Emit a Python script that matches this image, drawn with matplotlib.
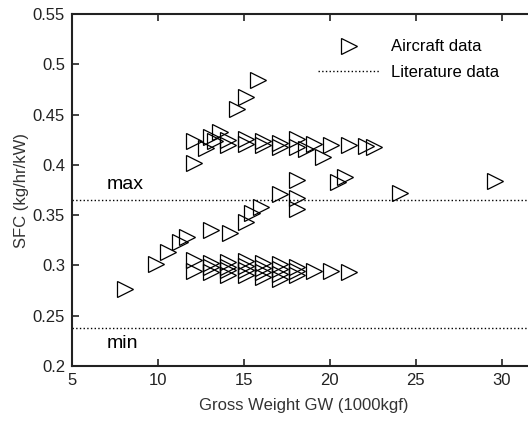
import matplotlib.pyplot as plt
import numpy as np

plt.rcParams['font.family'] = ['Liberation Sans', 'DejaVu Sans']

# aircraft data (GW in 1000kgf, SFC in kg/hr/kW)
gw = [8.1, 9.9, 10.6, 11.3, 11.7, 13.1, 14.2, 15.1, 15.5, 16.0, 17.1,
      18.1, 18.1, 18.1, 20.5, 20.9, 24.1, 29.6,
      14.6, 15.1, 15.8,
      12.1, 12.1, 12.8, 13.1, 13.3, 13.6, 14.1, 14.1, 15.1, 15.1, 16.1, 16.1,
      17.1, 17.1, 18.1, 18.1, 18.6, 19.1, 19.6, 20.1, 21.1, 22.1, 22.6,
      12.1, 12.1, 13.1, 13.1, 13.1, 14.1, 14.1, 14.1, 14.1,
      15.1, 15.1, 15.1, 15.1, 16.1, 16.1, 16.1, 16.1,
      17.1, 17.1, 17.1, 17.1, 18.1, 18.1, 18.1, 19.1, 20.1, 21.1]
sfc = [0.277, 0.301, 0.313, 0.323, 0.328, 0.335, 0.332, 0.343, 0.352, 0.358, 0.371,
       0.385, 0.367, 0.356, 0.383, 0.388, 0.372, 0.384,
       0.456, 0.467, 0.484,
       0.424, 0.402, 0.417, 0.428, 0.424, 0.433, 0.425, 0.420, 0.426, 0.421, 0.424, 0.420,
       0.422, 0.418, 0.426, 0.418, 0.416, 0.421, 0.408, 0.420, 0.420, 0.419, 0.418,
       0.305, 0.294, 0.302, 0.298, 0.293, 0.303, 0.298, 0.295, 0.290,
       0.304, 0.299, 0.295, 0.290, 0.302, 0.297, 0.293, 0.288,
       0.301, 0.296, 0.291, 0.287, 0.298, 0.294, 0.290, 0.294, 0.294, 0.293]

# literature limits
sfc_max = 0.365
sfc_min = 0.238

yticks = [0.2, 0.25, 0.3, 0.35, 0.4, 0.45, 0.5, 0.55]
ylabels = ['0.2', '0.25', '0.3', '0.35', '0.4', '0.45', '0.5', '0.55']
xticks = [5, 10, 15, 20, 25, 30]

fig = plt.figure(figsize=(5.28, 4.21), dpi=100)
ax = fig.add_axes([72/528, 55/421, 464/528, 352/421])

ax.plot(gw, sfc, linestyle='none', marker='>', markersize=11.5,
        markerfacecolor='none', markeredgecolor='black', markeredgewidth=0.9,
        label='Aircraft data')
ax.axhline(sfc_max, color='black', linestyle=':', linewidth=1, label='Literature data')
ax.axhline(sfc_min, color='black', linestyle=':', linewidth=1)

ax.text(7.0, 0.372, 'max', fontsize=14, va='bottom')
ax.text(7.0, 0.214, 'min', fontsize=14, va='bottom')

ax.set_xlim(5, 32)
ax.set_ylim(0.2, 0.55)
ax.set_xticks(xticks)
ax.set_yticks(yticks)
ax.set_yticklabels(ylabels)
ax.tick_params(direction='in', top=True, right=True, length=5, width=1.2,
               labelsize=12, colors='#222222', pad=5)
for s in ax.spines.values():
    s.set_linewidth(1.5)
    s.set_color('#222222')

ax.set_xlabel('Gross Weight GW (1000kgf)', fontsize=12, color='#333333', labelpad=7)
ax.set_ylabel('SFC (kg/hr/kW)', fontsize=12, color='#333333', labelpad=3)

ax.legend(loc='upper left', bbox_to_anchor=(0.53, 0.928), frameon=False,
          fontsize=12, handlelength=3.7, handletextpad=0.7, borderpad=0,
          borderaxespad=0, labelspacing=0.65)

fig.savefig('out.png', dpi=100)
